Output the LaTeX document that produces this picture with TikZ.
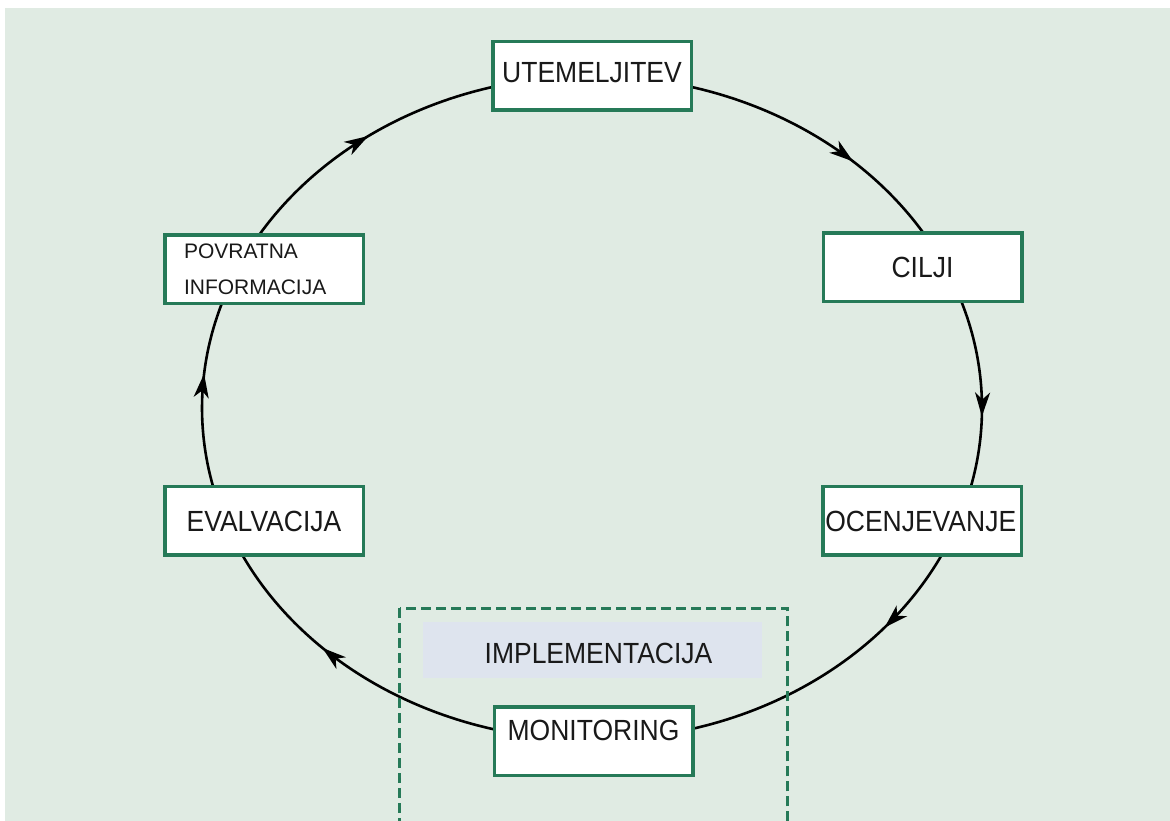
\documentclass[tikz,border=0pt]{standalone}
\usepackage{fontspec}
\setmainfont{Liberation Sans}
\usepackage{graphicx}
\usetikzlibrary{arrows.meta,decorations.markings}
\definecolor{bgc}{RGB}{224,235,227}
\definecolor{boxgreen}{RGB}{38,122,88}
\definecolor{shadec}{RGB}{222,228,238}
\definecolor{txt}{RGB}{25,25,25}
\newcommand\lbl[2][0pt]{\raisebox{#1}[\height][\depth]{\scalebox{1}[1.1]{#2}}}
\tikzset{
  stage/.style={draw=boxgreen, line width=3.5pt, fill=white, minimum width=198.5pt,
    minimum height=68.5pt, inner sep=2pt, text=txt, font=\fontsize{26.5}{30}\selectfont},
  flow/.style={line width=2.6pt, draw=black},
  midarrow/.style={postaction={decorate}, decoration={markings,
    mark=at position #1 with {\arrow{Stealth[length=24pt,width=15pt,inset=7pt]}}}},
  implframe/.style={draw=boxgreen, line width=3.5pt, dash pattern=on 10pt off 5pt},
}
\begin{document}
\begin{tikzpicture}[x=1pt,y=1pt]
\useasboundingbox (0,0) rectangle (1170,821);
\clip (0,0) rectangle (1170,821);
\fill[white] (0,0) rectangle (1170,821);
\fill[bgc] (5,0) rectangle (1170,813);
% implementation area
\node[fill=shadec, minimum width=339pt, minimum height=56pt, inner sep=0pt, text=txt,
  font=\fontsize{26.5}{30}\selectfont] (IM) at (592.5,171) {\hspace*{12pt}\lbl[-3pt]{IMPLEMENTACIJA}};
% cycle
\coordinate (c) at (592,413);
\draw[flow, midarrow=0.68] ([shift={(90:390pt and 332pt)}]c) arc[start angle=90, end angle=26.7, x radius=390pt, y radius=332pt];
\draw[flow, midarrow=0.58] ([shift={(26.7:390pt and 332pt)}]c) arc[start angle=26.7, end angle=-21.9, x radius=390pt, y radius=332pt];
\draw[flow, midarrow=0.27] ([shift={(-21.9:390pt and 332pt)}]c) arc[start angle=-21.9, end angle=-90, x radius=390pt, y radius=332pt];
\draw[flow, midarrow=0.66] ([shift={(-90:390pt and 332pt)}]c) arc[start angle=-90, end angle=-158.1, x radius=390pt, y radius=332pt];
\draw[flow, midarrow=0.57] ([shift={(-158.1:390pt and 332pt)}]c) arc[start angle=-158.1, end angle=-206.7, x radius=390pt, y radius=332pt];
\draw[flow, midarrow=0.43] ([shift={(-206.7:390pt and 332pt)}]c) arc[start angle=-206.7, end angle=-270, x radius=390pt, y radius=332pt];
% dashed frame
\draw[implframe] (399.5,212.5) rectangle (787.5,-30);
% stages
\node[stage] (UT) at (592,745) {\lbl[3.5pt]{UTEMELJITEV}};
\node[stage] (CI) at (922.5,553.5) {\lbl{CILJI}};
\node[stage, inner xsep=2.5pt, text width=193.5pt, align=left] (OC) at (922,300) {\lbl{OCENJEVANJE}};
\node[stage] (MO) at (593.5,79.5) {\lbl[11pt]{MONITORING}};
\node[stage] (EV) at (264,300) {\lbl{EVALVACIJA}};
\node[stage, font=\fontsize{21}{36}\selectfont, text width=160pt, inner xsep=19.25pt,
  align=left] (PO) at (264,551.5) {POVRATNA\\INFORMACIJA};
\end{tikzpicture}
\end{document}
